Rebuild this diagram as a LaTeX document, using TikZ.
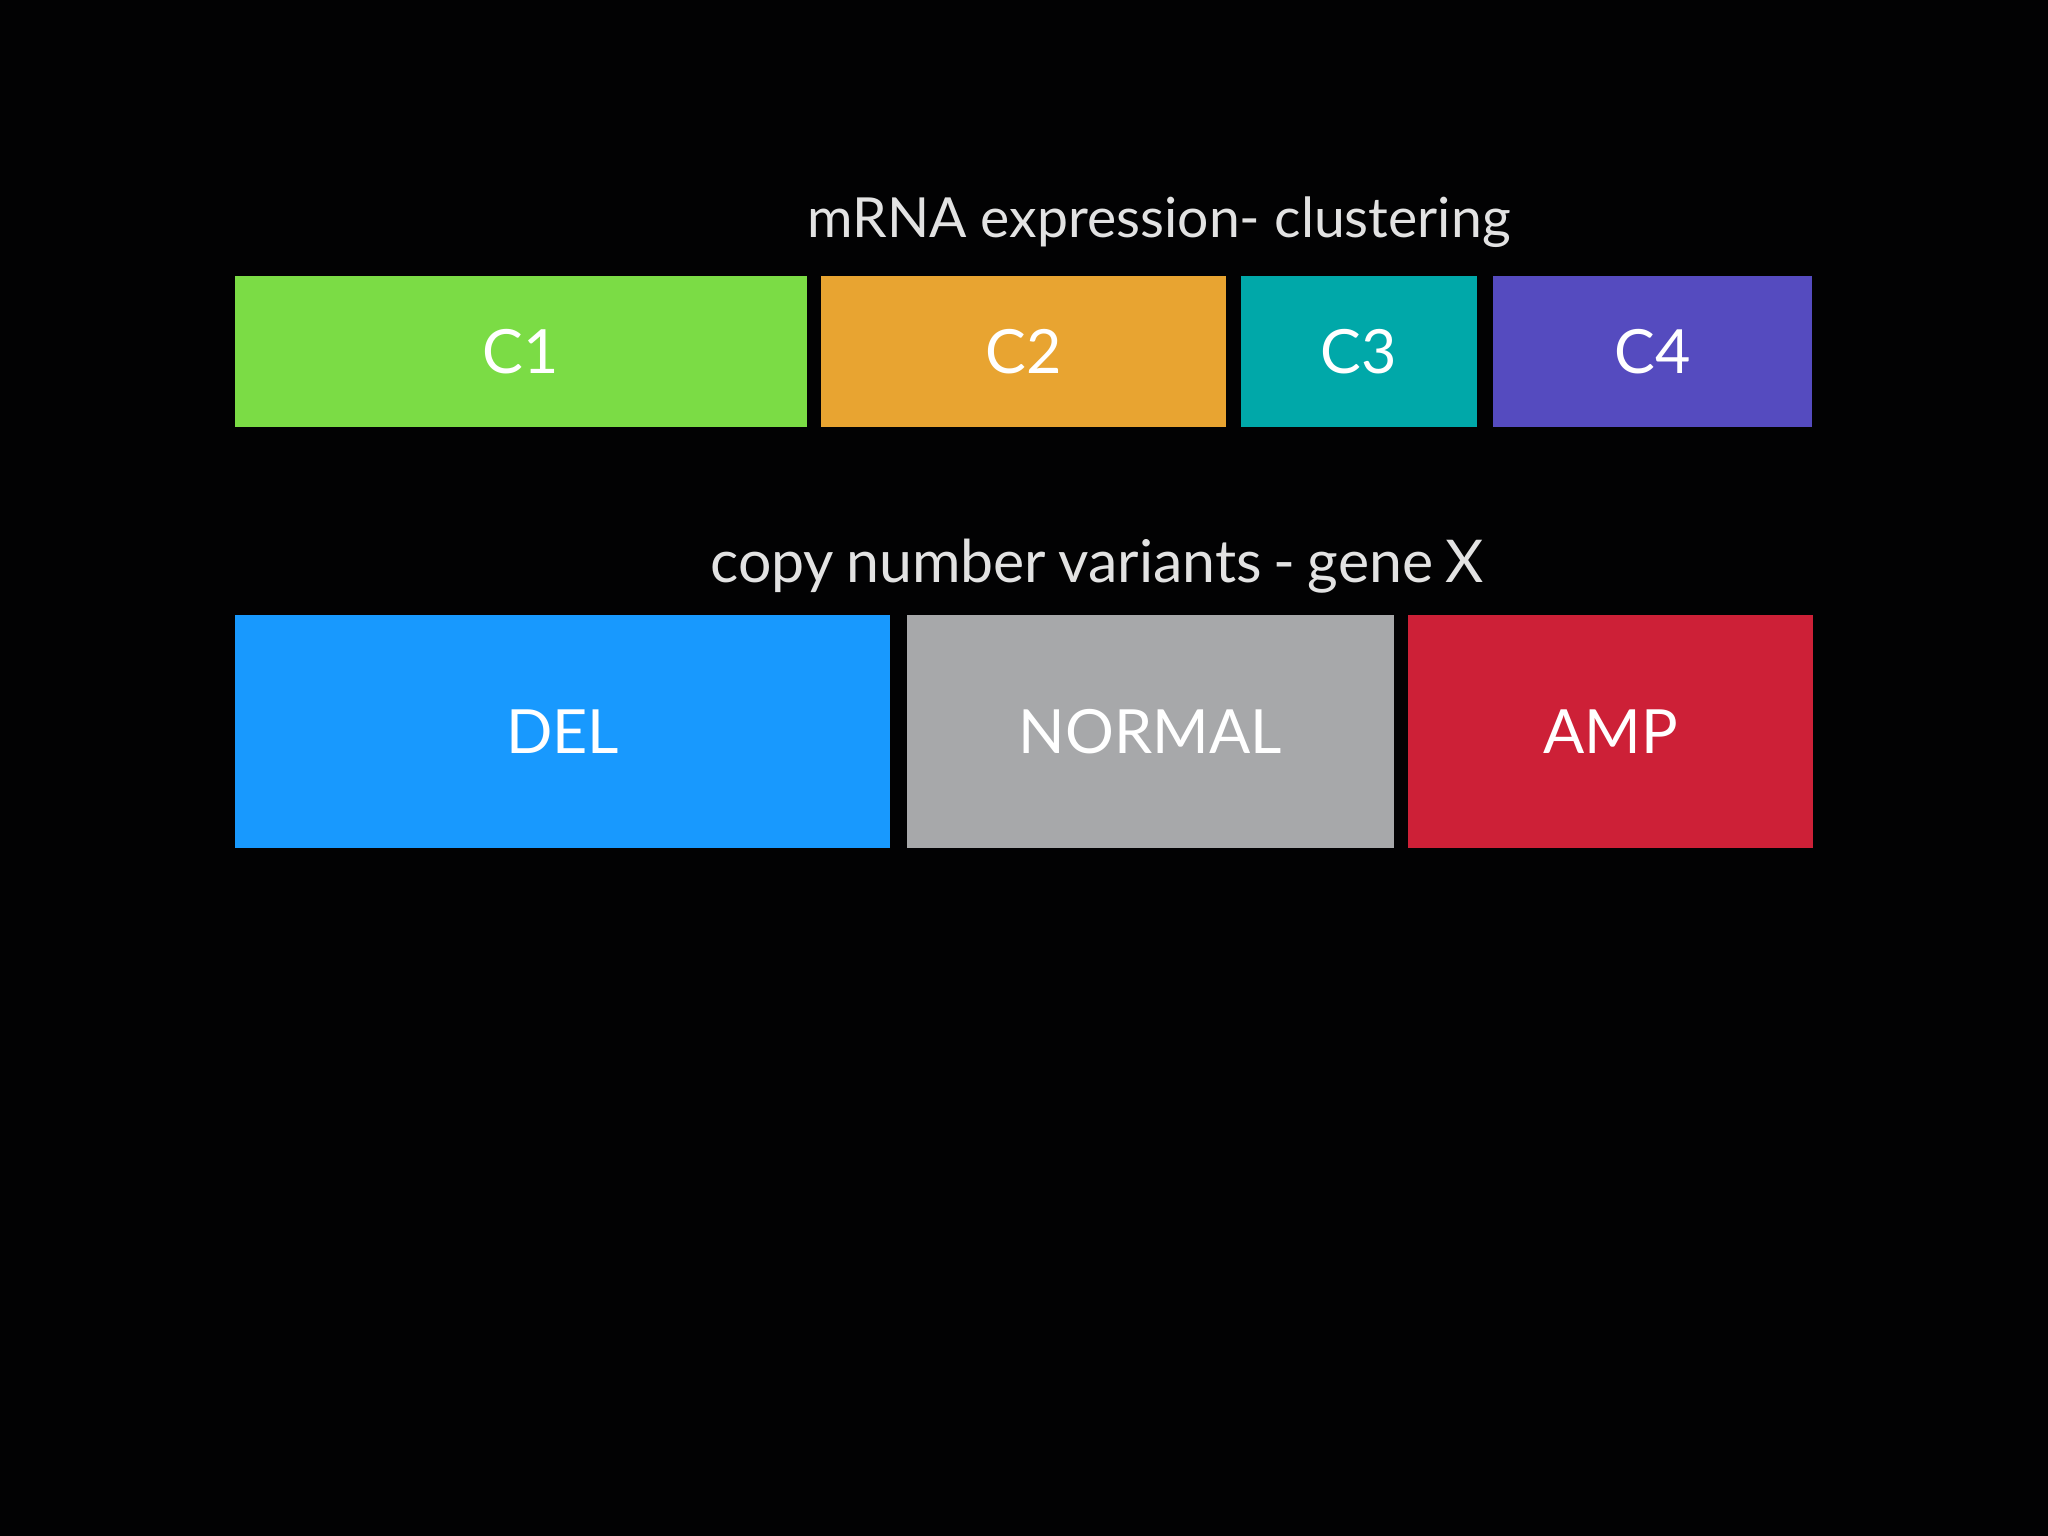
\documentclass[tikz,border=0pt]{standalone}
\usepackage{fontspec}
\setmainfont{Lato}
\definecolor{bg}{HTML}{020203}
\definecolor{titlegray}{HTML}{E2E2E2}
\definecolor{cgreen}{HTML}{7BDC45}
\definecolor{corange}{HTML}{E8A431}
\definecolor{cteal}{HTML}{00A8A9}
\definecolor{cpurple}{HTML}{554BBF}
\definecolor{cblue}{HTML}{1899FE}
\definecolor{cgray}{HTML}{A7A8AA}
\definecolor{cred}{HTML}{CD2037}
\newcommand{\mytightspace}{\spaceskip=0.8\fontdimen2\font\relax}
\tikzset{
  px/.style={x=1pt,y=-1pt},
  cbox/.style={rectangle, inner sep=0pt, outer sep=0pt, draw=none, text=white,
    font=\fontsize{61}{70}\selectfont},
  titletext/.style={anchor=base, inner sep=0pt, text=titlegray,
    font=\fontsize{55.3}{66}\selectfont},
}
\begin{document}
\begin{tikzpicture}[px]
\fill[bg] (0,0) rectangle (2048,1536);
\useasboundingbox (0,0) rectangle (2048,1536);
% row 1
\node[titletext] (t1) at (1159,237) {mRNA expression- clustering};
\node[cbox, fill=cgreen, minimum width=572pt, minimum height=151pt] (c1) at (521,351.3) {C1};
\node[cbox, fill=corange, minimum width=404.5pt, minimum height=151pt] (c2) at (1023.7,351.3) {C2};
\node[cbox, fill=cteal, minimum width=236.3pt, minimum height=151pt] (c3) at (1358.9,351.3) {C3};
\node[cbox, fill=cpurple, minimum width=319.7pt, minimum height=151pt] (c4) at (1652.6,351.3) {C4};
% row 2
\node[titletext, font=\fontsize{59}{70}\selectfont\mytightspace] (t2) at (1097,582) {copy number variants - gene X};
\node[cbox, fill=cblue, minimum width=655pt, minimum height=233pt] (del) at (562.6,731.9) {DEL};
\node[cbox, fill=cgray, minimum width=487pt, minimum height=233pt] (normal) at (1150.1,731.9) {NORMAL};
\node[cbox, fill=cred, minimum width=404.3pt, minimum height=233pt] (amp) at (1610.5,731.9) {AMP};
\end{tikzpicture}
\end{document}
